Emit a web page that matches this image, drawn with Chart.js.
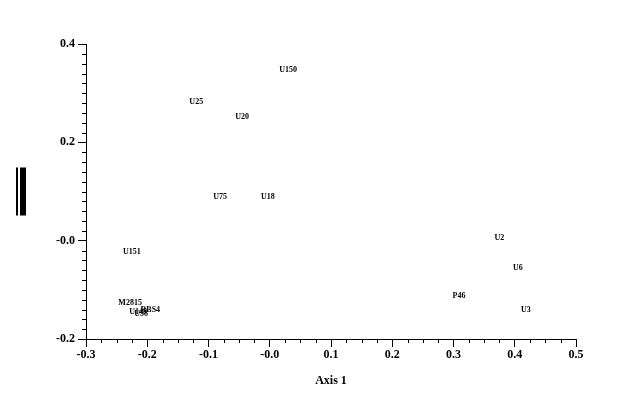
<!DOCTYPE html>
<html>
<head>
<meta charset="utf-8">
<script src="https://cdn.jsdelivr.net/npm/chart.js@4"></script>
<style>
    html, body { margin: 0; padding: 0; background: #fff; }
    #box { width: 624px; height: 413px; }
</style>
</head>
<body>
<div id="box"><canvas id="ordination"></canvas></div>
<script>
// sample names and their scores on the two axes
const names = ["U150", "U25", "U20", "U75", "U18", "U151", "U2", "U6", "P46", "U3", "M2815", "U148", "U58", "RBS4"];
const axis1 = [0.030, -0.120, -0.045, -0.081, -0.003, -0.225, 0.375, 0.405, 0.309, 0.418, -0.228, -0.215, -0.210, -0.195];
const axis2 = [0.348, 0.282, 0.251, 0.089, 0.089, -0.023, 0.005, -0.056, -0.112, -0.141, -0.127, -0.145, -0.150, -0.141];

const xTicks = [-0.3, -0.2, -0.1, 0.0, 0.1, 0.2, 0.3, 0.4, 0.5];
const yTicks = [-0.2, 0.0, 0.2, 0.4];

const serif = "'Liberation Serif', 'Times New Roman', serif";

function fmt(v) {
    if (Math.abs(v) < 1e-9) {
        return "-0.0";
    }
    return v.toFixed(1);
}

let points = [];
for (let i = 0; i < names.length; i++) {
    points.push({ x: axis1[i], y: axis2[i] });
}

// draw the sample names where the points are
const nameLabels = {
    id: 'nameLabels',
    afterDatasetsDraw(chart) {
        const ctx = chart.ctx;
        const meta = chart.getDatasetMeta(0);
        ctx.save();
        ctx.font = "bold 8px " + serif;
        ctx.fillStyle = "#000";
        ctx.textAlign = "center";
        ctx.textBaseline = "middle";
        meta.data.forEach(function (pt, i) {
            ctx.fillText(names[i], pt.x, pt.y);
        });
        ctx.restore();
    }
};

// short minor ticks plus the black block where the axis 2 title sits
const extras = {
    id: 'extras',
    afterDraw(chart) {
        const ctx = chart.ctx;
        const xs = chart.scales.x, ys = chart.scales.y;
        const area = chart.chartArea;
        ctx.save();
        ctx.strokeStyle = "#000";
        ctx.lineWidth = 1;
        ctx.beginPath();
        for (let k = 0; k <= 32; k++) {
            if (k % 4 === 0) continue;
            const px = Math.round(xs.getPixelForValue(-0.3 + k * 0.025)) + 0.5;
            ctx.moveTo(px, area.bottom);
            ctx.lineTo(px, area.bottom + 4);
        }
        for (let k = 0; k <= 30; k++) {
            if (k % 10 === 0) continue;
            const py = Math.round(ys.getPixelForValue(-0.2 + k * 0.02)) + 0.5;
            ctx.moveTo(area.left, py);
            ctx.lineTo(area.left - 4, py);
        }
        ctx.stroke();

        const mid = (area.top + area.bottom) / 2;
        ctx.fillStyle = "#000";
        ctx.fillRect(16, mid - 24, 2, 48);
        ctx.fillRect(20, mid - 24, 6, 48);
        ctx.restore();
    }
};

const config = {
    type: 'scatter',
    data: {
        datasets: [{
            label: 'samples',
            data: points,
            pointRadius: 0,
            pointHoverRadius: 0,
            showLine: false
        }]
    },
    options: {
        responsive: true,
        maintainAspectRatio: false,
        animation: false,
        layout: {
            padding: { top: 44, right: 48, left: 0, bottom: 0 }
        },
        plugins: {
            legend: { display: false },
            tooltip: { enabled: false }
        },
        scales: {
            x: {
                type: 'linear',
                min: -0.3,
                max: 0.5,
                afterFit: function (scale) { scale.height = 74; },
                afterBuildTicks: function (scale) {
                    scale.ticks = xTicks.map(function (v) { return { value: v }; });
                },
                grid: {
                    drawOnChartArea: false,
                    drawTicks: true,
                    tickLength: 8,
                    color: "#000"
                },
                border: { display: true, color: "#000", width: 1 },
                ticks: {
                    color: "#000",
                    padding: 1,
                    maxRotation: 0,
                    font: { family: serif, size: 12, weight: 'bold' },
                    callback: function (v) { return fmt(v); }
                },
                title: {
                    display: true,
                    text: "Axis 1",
                    color: "#000",
                    font: { family: serif, size: 12, weight: 'bold' },
                    padding: { top: 25, bottom: 25 }
                }
            },
            y: {
                type: 'linear',
                min: -0.2,
                max: 0.4,
                afterFit: function (scale) { scale.width = 86; },
                afterBuildTicks: function (scale) {
                    scale.ticks = yTicks.map(function (v) { return { value: v }; });
                },
                grid: {
                    drawOnChartArea: false,
                    drawTicks: true,
                    tickLength: 8,
                    color: "#000"
                },
                border: { display: true, color: "#000", width: 1 },
                ticks: {
                    color: "#000",
                    padding: 3,
                    font: { family: serif, size: 12, weight: 'bold' },
                    callback: function (v) { return fmt(v); }
                }
            }
        }
    },
    plugins: [nameLabels, extras]
};

const chart = new Chart(document.getElementById('ordination'), config);
</script>
</body>
</html>
